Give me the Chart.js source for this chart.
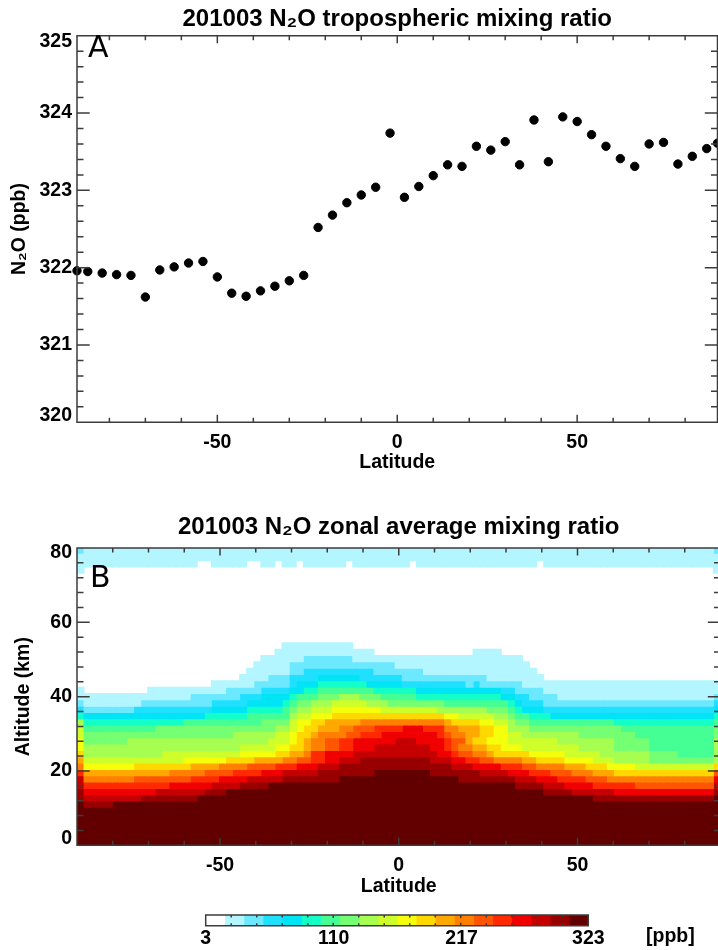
<!DOCTYPE html>
<html>
<head>
<meta charset="utf-8">
<script src="https://cdn.jsdelivr.net/npm/chart.js@4"></script>
<style>
  html, body { margin: 0; padding: 0; background: #fff; width: 718px; height: 950px; overflow: hidden; }
  canvas { position: absolute; left: 0; }
</style>
</head>
<body>
<canvas id="chartA" width="718" height="480" style="top:0"></canvas>
<canvas id="chartB" width="722" height="400" style="top:500px"></canvas>
<canvas id="colorBar" width="718" height="50" style="top:900px"></canvas>
<script>
// Panel A: N2O tropospheric mixing ratio by latitude
const latitudes = [-89, -86, -82, -78, -74, -70, -66, -62, -58, -54, -50, -46, -42, -38, -34, -30, -26, -22, -18, -14, -10, -6, -2,
  2, 6, 10, 14, 18, 22, 26, 30, 34, 38, 42, 46, 50, 54, 58, 62, 66, 70, 74, 78, 82, 86, 89];
const n2oPpb = [321.96, 321.95, 321.93, 321.91, 321.90, 321.62, 321.97, 322.01, 322.06, 322.08, 321.88, 321.67, 321.63, 321.70, 321.76, 321.83, 321.90,
  322.52, 322.68, 322.84, 322.94, 323.04, 323.74,
  322.91, 323.05, 323.19, 323.33, 323.31, 323.57, 323.52, 323.63, 323.33, 323.91, 323.37, 323.95, 323.89, 323.72, 323.57, 323.41, 323.31, 323.60, 323.62, 323.34, 323.44, 323.54, 323.61];
const latTicks = [-50, 0, 50];
const n2oTicks = [320, 321, 322, 323, 324, 325];
const altTicks = [0, 20, 40, 60, 80];

// Panel B / colour bar: 20 levels, light to dark (index 0 is level 1)
const levelColors = ['#ffffff', '#b4f6ff', '#6ce9ff', '#1fe0ff', '#00e5f5', '#14ffc8', '#45ff95', '#75ff72', '#a6ff50', '#cfff2a',
  '#f5ff0b', '#ffd800', '#ffa800', '#ff8000', '#ff5500', '#ff2a00', '#f00000', '#c40000', '#980000', '#620000'];
const levelEdges = [3, 19, 35, 51, 67, 83, 99, 115, 131, 147, 163, 179, 195, 211, 227, 243, 259, 275, 291, 307, 323];
const barTicks = [3, 110, 217, 323];

// Zonal mean grid: one line per altitude row (bottom up),
// written as column, level, column, level... where each level runs until the next column
const cellRuns = [
  [0,20], [0,20], [0,20], [0,20], [0,20], [0,20],
  [0,20, 1,19, 5,20],
  [0,19, 1,18, 9,19, 17,20, 73,19, 90,20],
  [0,19, 1,17, 11,18, 18,19, 21,20, 66,19, 70,18, 76,17, 90,19],
  [0,18, 1,16, 13,17, 19,18, 23,19, 27,20, 62,19, 66,18, 69,17, 73,16, 79,15, 90,18],
  [0,18, 1,14, 8,15, 16,16, 20,17, 24,18, 29,19, 37,20, 54,19, 62,18, 65,17, 68,16, 72,15, 75,14, 90,17],
  [0,16, 1,13, 13,14, 18,15, 22,16, 26,17, 29,18, 34,19, 42,20, 50,19, 57,18, 61,17, 64,16, 67,15, 70,14, 73,13, 76,12, 90,15],
  [0,14, 1,11, 8,12, 16,13, 20,14, 24,15, 28,16, 31,17, 34,18, 37,19, 53,18, 56,17, 60,16, 63,15, 65,14, 69,13, 72,12, 75,11, 79,10, 90,12],
  [0,13, 1,10, 15,11, 21,12, 25,13, 29,14, 31,15, 33,16, 35,17, 37,18, 40,19, 50,18, 53,17, 55,16, 57,15, 59,14, 63,13, 65,12, 69,11, 73,10, 76,9, 81,8, 90,9],
  [0,12, 1,9, 12,10, 23,11, 28,12, 30,13, 32,14, 33,16, 35,17, 39,18, 51,17, 53,16, 54,15, 56,14, 58,13, 59,12, 64,11, 69,10, 74,9, 81,8, 85,7, 90,9],
  [0,11, 1,9, 23,10, 28,11, 30,12, 32,13, 33,14, 35,15, 37,16, 39,17, 42,18, 50,17, 52,16, 53,15, 54,14, 56,13, 58,12, 60,11, 63,10, 71,9, 76,8, 81,7, 90,9],
  [0,11, 1,8, 7,9, 27,10, 30,11, 31,12, 32,13, 33,14, 35,15, 37,16, 39,17, 45,18, 48,17, 52,16, 53,15, 55,13, 56,12, 58,11, 61,10, 68,9, 76,8, 81,7, 90,9],
  [0,10, 1,8, 22,9, 28,10, 30,11, 31,12, 33,13, 34,14, 38,15, 40,16, 43,17, 51,16, 52,15, 53,14, 55,13, 57,12, 59,11, 61,10, 63,9, 71,8, 79,7, 90,8],
  [0,10, 1,7, 11,8, 28,9, 30,10, 31,11, 32,12, 34,13, 37,14, 39,15, 42,16, 46,17, 49,16, 52,14, 54,13, 57,12, 59,11, 61,9, 64,8, 77,7, 90,8],
  [0,9, 1,6, 15,7, 26,8, 30,10, 31,11, 33,12, 35,13, 40,14, 52,13, 53,12, 57,11, 59,10, 61,9, 62,8, 64,7, 76,6, 90,7],
  [0,6, 1,5, 18,6, 24,7, 30,9, 31,10, 33,11, 36,12, 52,11, 54,10, 59,9, 61,8, 62,7, 64,6, 67,5, 90,6],
  [0,4, 1,3, 8,4, 19,5, 24,6, 29,7, 30,8, 31,9, 33,10, 36,11, 43,10, 51,9, 58,8, 61,7, 62,6, 63,5, 66,4, 90,5],
  [0,3, 1,2, 9,3, 19,4, 24,5, 29,6, 30,7, 31,8, 33,9, 36,10, 41,9, 44,8, 52,7, 61,6, 62,5, 63,4, 66,3, 90,4],
  [0,2, 16,3, 23,4, 26,5, 30,6, 31,7, 34,8, 37,9, 40,8, 43,7, 48,6, 60,5, 62,4, 64,3, 68,2, 90,3],
  [0,2, 1,1, 10,2, 21,3, 26,4, 30,5, 32,6, 34,7, 42,6, 48,5, 60,4, 62,3, 66,2],
  [0,1, 19,2, 25,3, 30,4, 31,5, 34,6, 41,5, 46,4, 55,3, 56,4, 57,3, 63,2],
  [0,1, 23,2, 27,3, 30,4, 34,5, 40,4, 46,3, 58,2, 66,1],
  [0,1, 24,2, 30,3, 32,4, 42,3, 49,2, 65,1],
  [0,1, 25,2, 30,3, 45,2, 64,1],
  [0,1, 26,2, 32,3, 39,2, 63,1],
  [0,1, 28,2, 42,1, 56,2, 60,1],
  [0,1, 29,2, 39,1],
  [0,1], [0,1], [0,1], [0,1], [0,1], [0,1], [0,1], [0,1], [0,1], [0,1], [0,1],
  [0,2, 1,1, 90,2],
  [0,2, 17,1, 19,2, 24,1, 26,2, 28,1, 29,2, 31,1, 32,2, 38,1, 39,2, 47,1, 48,2, 65,1, 66,2],
  [0,2],
  [0,3, 1,2, 90,3]
];

const columnCount = 91;
const rowHeight = 80 / cellRuns.length;

// pick out the cells of one level as floating bars
function cellsForLevel(level) {
  const cells = [];
  cellRuns.forEach((runs, row) => {
    for (let r = 0; r < runs.length; r += 2) {
      if (runs[r + 1] !== level) continue;
      const end = r + 2 < runs.length ? runs[r + 2] : columnCount;
      for (let col = runs[r]; col < end; col++) {
        cells.push({ x: -90 + (col + 0.5) * 180 / columnCount, y: [row * rowHeight, (row + 1) * rowHeight] });
      }
    }
  });
  return cells;
}

Chart.defaults.font.family = "'Liberation Sans', Arial, sans-serif";
Chart.defaults.font.weight = 'bold';
Chart.defaults.font.size = 19.5;
Chart.defaults.color = '#000';
Chart.defaults.animation = false;

const axisColor = '#3c3c3c';
const noGrid = { display: false, drawTicks: false };

function useTicks(values) {
  return scale => { scale.ticks = values.map(value => ({ value })); };
}

// IDL style frame: ticks point inwards on all four sides, end labels sit inside the axis
function framePlugin(cfg) {
  return {
    id: 'frame',
    beforeDraw(chart) {
      if (!cfg.yStep) return;
      const items = chart.scales.y.getLabelItems();
      items[0].options.translation[1] += cfg.lowShift;
      items[items.length - 1].options.translation[1] += cfg.highShift;
    },
    afterDatasetsDraw(chart) {
      const { ctx, chartArea: a, scales: { x, y } } = chart;
      ctx.save();
      ctx.strokeStyle = axisColor;
      ctx.lineWidth = 1.5;
      ctx.beginPath();
      for (let i = 0; cfg.xStart + i * cfg.xStep <= x.max + 1e-6; i++) {
        const px = x.getPixelForValue(cfg.xStart + i * cfg.xStep);
        const len = i % cfg.xEvery === cfg.xMajorAt ? cfg.xMajor : cfg.xMinor;
        ctx.moveTo(px, a.bottom); ctx.lineTo(px, a.bottom - len);
        ctx.moveTo(px, a.top); ctx.lineTo(px, a.top + len);
      }
      if (cfg.yStep) {
        for (let i = 0; y.min + i * cfg.yStep <= y.max + 1e-6; i++) {
          const py = y.getPixelForValue(y.min + i * cfg.yStep);
          const len = i % 5 === 0 ? cfg.yMajor : cfg.yMinor;
          ctx.moveTo(a.left, py); ctx.lineTo(a.left + len, py);
          ctx.moveTo(a.right, py); ctx.lineTo(a.right - len, py);
        }
      }
      ctx.rect(a.left, a.top, a.right - a.left, a.bottom - a.top);
      ctx.stroke();
      ctx.restore();
      if (cfg.letter) {
        ctx.save();
        ctx.font = "30px 'DejaVu Sans'";
        ctx.fillStyle = '#000';
        ctx.textBaseline = 'alphabetic';
        ctx.fillText(cfg.letter, a.left + cfg.letterX, a.top + cfg.letterY);
        ctx.restore();
      }
      if (cfg.unit) {
        ctx.save();
        ctx.font = "bold 19.5px 'Liberation Sans'";
        ctx.fillStyle = '#000';
        ctx.textBaseline = 'middle';
        ctx.fillText(cfg.unit, 646, 36.5);
        ctx.restore();
      }
    }
  };
}

new Chart(document.getElementById('chartA'), {
  type: 'scatter',
  data: {
    datasets: [{
      data: latitudes.map((lat, i) => ({ x: lat, y: n2oPpb[i] })),
      backgroundColor: '#000',
      borderColor: '#000',
      pointRadius: 4.2,
      clip: false
    }]
  },
  options: {
    responsive: false,
    layout: { autoPadding: false, padding: { right: 0.5 } },
    plugins: {
      legend: { display: false },
      tooltip: { enabled: false },
      title: {
        display: true,
        fullSize: false,
        text: '201003 N₂O tropospheric mixing ratio',
        font: { size: 24, lineHeight: 1.2 },
        padding: { top: 4.6, bottom: 2.3 }
      }
    },
    scales: {
      x: {
        type: 'linear', min: -89, max: 89,
        grid: noGrid, border: { display: false },
        afterBuildTicks: useTicks(latTicks),
        afterFit: s => { s.height = 57.7; },
        ticks: { padding: 9, maxRotation: 0, autoSkip: false },
        title: { display: true, text: 'Latitude', padding: { top: 0, bottom: 5.3 } }
      },
      y: {
        min: 320, max: 325,
        grid: noGrid, border: { display: false },
        afterBuildTicks: useTicks(n2oTicks),
        afterFit: s => { s.width = 77; },
        ticks: { padding: 5, autoSkip: false },
        title: { display: true, text: 'N₂O (ppb)', padding: { top: 7.8, bottom: 0 } }
      }
    }
  },
  plugins: [framePlugin({
    xStart: -80, xStep: 10, xEvery: 5, xMajorAt: 3, xMajor: 7.5, xMinor: 4.5,
    yStep: 0.2, yMajor: 12.7, yMinor: 6.5, lowShift: -6.6, highShift: 5.8,
    letter: 'A', letterX: 11, letterY: 21.5
  })]
});

new Chart(document.getElementById('chartB'), {
  type: 'bar',
  data: {
    // level 1 is white, the page shows through
    datasets: levelColors.slice(1).map((color, i) => ({
      data: cellsForLevel(i + 2),
      backgroundColor: color,
      borderWidth: 0,
      inflateAmount: 0.51   // a bit more than 'auto', otherwise the cell seams show
    }))
  },
  options: {
    responsive: false,
    layout: { autoPadding: false, padding: { right: 1.5 } },
    datasets: { bar: { grouped: false, barPercentage: 1, categoryPercentage: 1 } },
    plugins: {
      legend: { display: false },
      tooltip: { enabled: false },
      title: {
        display: true,
        fullSize: false,
        text: '201003 N₂O zonal average mixing ratio',
        font: { size: 24, lineHeight: 1.2 },
        padding: { top: 12.6, bottom: 6.6 }
      }
    },
    scales: {
      x: {
        type: 'linear', min: -90, max: 90, offset: false,
        grid: noGrid, border: { display: false },
        afterBuildTicks: useTicks(latTicks),
        afterFit: s => { s.height = 54.7; },
        ticks: { padding: 8.5, maxRotation: 0, autoSkip: false },
        title: { display: true, text: 'Latitude', padding: { top: 0, bottom: 1.3 } }
      },
      y: {
        min: 0, max: 80,
        grid: noGrid, border: { display: false },
        afterBuildTicks: useTicks(altTicks),
        afterFit: s => { s.width = 77; },
        ticks: { padding: 5, autoSkip: false },
        title: { display: true, text: 'Altitude (km)', padding: { top: 12, bottom: 0 } }
      }
    }
  },
  plugins: [framePlugin({
    xStart: -80, xStep: 10, xEvery: 5, xMajorAt: 3, xMajor: 7.5, xMinor: 4.5,
    yStep: 4, yMajor: 12.7, yMinor: 6.5, lowShift: -7, highShift: 5,
    letter: 'B', letterX: 13, letterY: 39
  })]
});

new Chart(document.getElementById('colorBar'), {
  type: 'bar',
  data: {
    labels: ['ppb'],
    datasets: levelColors.map((color, i) => ({
      data: [[levelEdges[i], levelEdges[i + 1]]],
      backgroundColor: color,
      borderWidth: 0
    }))
  },
  options: {
    responsive: false,
    indexAxis: 'y',
    layout: { autoPadding: false, padding: { left: 205.7, right: 129.7, top: 15 } },
    datasets: { bar: { grouped: false, barPercentage: 1, categoryPercentage: 1 } },
    plugins: { legend: { display: false }, tooltip: { enabled: false } },
    scales: {
      x: {
        type: 'linear', min: 3, max: 323,
        grid: noGrid, border: { display: false },
        afterBuildTicks: useTicks(barTicks),
        afterFit: s => { s.height = 24.3; },
        ticks: { padding: 1, maxRotation: 0, autoSkip: false }
      },
      y: { display: false }
    }
  },
  plugins: [framePlugin({
    xStart: 3, xStep: 21.3333, xEvery: 5, xMajorAt: 0, xMajor: 3, xMinor: 2.5,
    unit: '[ppb]'
  })]
});
</script>
</body>
</html>
